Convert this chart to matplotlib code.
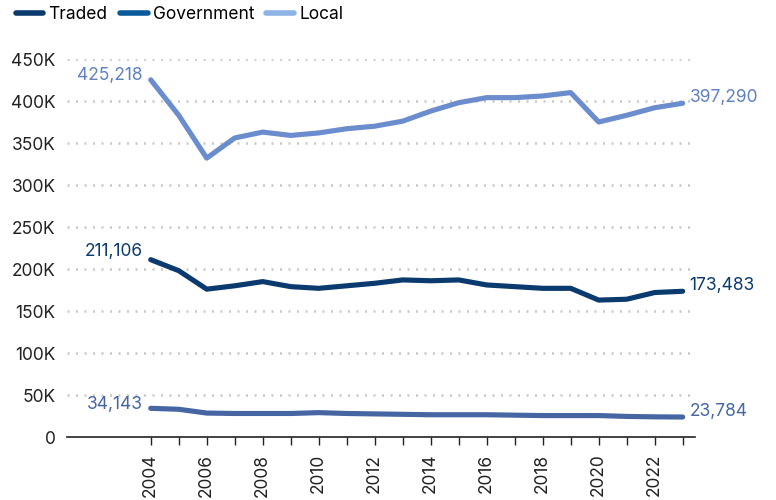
import matplotlib.pyplot as plt
from matplotlib.lines import Line2D
from matplotlib.ticker import FuncFormatter

plt.rcParams['font.family'] = ['Inter', 'DejaVu Sans']

years = list(range(2004, 2024))
traded = [211106, 198000, 176000, 180000, 185000, 179000, 177000, 180000, 183000, 187000,
          186000, 187000, 181000, 179000, 177000, 177000, 163000, 164000, 172000, 173483]
government = [34143, 33000, 28500, 28000, 28000, 28000, 29000, 28000, 27500, 27000,
              26500, 26500, 26500, 26000, 25500, 25500, 25500, 24500, 24000, 23784]
local = [425218, 383000, 332000, 356000, 363000, 359000, 362000, 367000, 370000, 376000,
         388000, 398000, 404000, 404000, 406000, 410000, 375000, 383000, 392000, 397290]

series_names = ["Traded", "Government", "Local"]
legend_colors = ["#0b3a6e", "#0b5b9c", "#8cb3e3"]
line_colors = ["#0b3a6e", "#4565a3", "#6b8ccd"]
label_colors = ["#0b3a6e", "#4565a3", "#5f80c2"]
y_ticks = [0, 50000, 100000, 150000, 200000, 250000, 300000, 350000, 400000, 450000]

fig = plt.figure(figsize=(7.76, 5), dpi=100)
ax = fig.add_axes([0.086, 0.126, 0.81, 0.756])

# start label lifted a bit more for the traded series, as in the original
start_lift = [6, 3, 3]
for vals, lc, tc, lift in zip([traded, government, local], line_colors, label_colors, start_lift):
    ax.plot(years, vals, color=lc, lw=3.7, solid_capstyle='round', solid_joinstyle='round', zorder=3)
    ax.annotate(f"{vals[0]:,}", (years[0], vals[0]), xytext=(-6, lift), textcoords='offset points',
                color=tc, fontsize=12.5, ha='right', va='center')
    ax.annotate(f"{vals[-1]:,}", (years[-1], vals[-1]), xytext=(5, 4), textcoords='offset points',
                color=tc, fontsize=12.5, ha='left', va='center')

ax.set_xlim(2001, 2023.45)
ax.set_ylim(0, 450000)
ax.set_yticks(y_ticks)
ax.yaxis.set_major_formatter(FuncFormatter(lambda v, p: "0" if v == 0 else f"{int(v/1000)}K"))
ax.set_xticks(years)
ax.set_xticklabels([str(y) if y % 2 == 0 else "" for y in years], rotation=90)
ax.tick_params(axis='x', length=6, width=1, color='#222222', labelsize=12.5, pad=6)
ax.tick_params(axis='y', length=0, labelsize=12.5, pad=8)
for lab in ax.get_xticklabels() + ax.get_yticklabels():
    lab.set_color('#222222')

for t in y_ticks[1:]:
    ax.axhline(t, color='#c8c8c8', lw=1.8, linestyle=(0, (0.8, 2.6)),
               dash_capstyle='butt', zorder=1)

for s in ['top', 'right', 'left']:
    ax.spines[s].set_visible(False)
ax.spines['bottom'].set_color('#222222')
ax.spines['bottom'].set_linewidth(1.2)

handles = [Line2D([0], [0], color=c, lw=4, solid_capstyle='round') for c in legend_colors]
fig.legend(handles, series_names, loc='upper left', bbox_to_anchor=(0.0, 1.02), ncol=3,
           frameon=False, fontsize=12.5, handlelength=1.6, handletextpad=0.3, columnspacing=0.7)

fig.savefig("out.png", dpi=100)
